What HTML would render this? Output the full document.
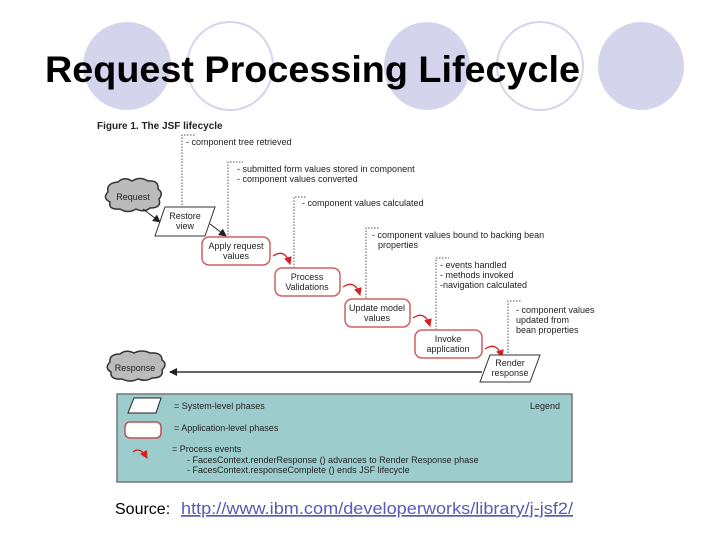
<!DOCTYPE html>
<html><head><meta charset="utf-8"><style>
html,body{margin:0;padding:0;background:#fff;}
body{width:720px;height:540px;overflow:hidden;position:relative;font-family:"Liberation Sans",sans-serif;}
</style></head><body>
<svg width="720" height="540" viewBox="0 0 720 540" xmlns="http://www.w3.org/2000/svg" style="position:absolute;left:0;top:0">
<defs>
<marker id="ab" markerWidth="8" markerHeight="8" refX="7" refY="4" orient="auto" markerUnits="userSpaceOnUse"><path d="M0,0 L8,4 L0,8 z" fill="#222"/></marker>
<marker id="ar" markerWidth="8" markerHeight="8" refX="7" refY="4" orient="auto" markerUnits="userSpaceOnUse"><path d="M0,0 L8,4 L0,8 z" fill="#d62020"/></marker>
</defs>
<ellipse cx="127" cy="66" rx="44" ry="44" fill="#d4d4ec"/>
<ellipse cx="230" cy="66" rx="43" ry="44" fill="none" stroke="#d4d4ec" stroke-width="2"/>
<ellipse cx="427" cy="66" rx="43" ry="44" fill="#d4d4ec"/>
<ellipse cx="540" cy="66" rx="43" ry="44" fill="none" stroke="#d4d4ec" stroke-width="2"/>
<ellipse cx="641" cy="66" rx="43" ry="44" fill="#d4d4ec"/>
<text x="45" y="82" font-size="37" font-weight="bold" font-family="Liberation Sans, sans-serif" fill="#000" textLength="535" lengthAdjust="spacingAndGlyphs">Request Processing Lifecycle</text>

<text x="97" y="129" font-size="10" font-weight="bold" fill="#222">Figure 1. The JSF lifecycle</text>

<g stroke="#555" stroke-dasharray="1.5,1.5" fill="none" stroke-width="1">
<path d="M182,208 V135 H196"/>
<path d="M228,238 V162 H243"/>
<path d="M294,268 V197 H307"/>
<path d="M366,298 V228 H379"/>
<path d="M436,330 V258 H449"/>
<path d="M508,356 V301 H521"/>
</g>
<g font-size="9" fill="#222">
<text x="186" y="145">- component tree retrieved</text>
<text x="237" y="172">- submitted form values stored in component</text>
<text x="237" y="182">- component values converted</text>
<text x="302" y="206">- component values calculated</text>
<text x="372" y="238">- component values bound to backing bean</text>
<text x="378" y="248">properties</text>
<text x="440" y="268">- events handled</text>
<text x="440" y="278">- methods invoked</text>
<text x="440" y="288">-navigation calculated</text>
<text x="516" y="313">- component values</text>
<text x="516" y="323">updated from</text>
<text x="516" y="333">bean properties</text>
</g>

<path d="M108,192 q-2,-9 10,-10 q6,-6 14,-1 q8,-5 16,0 q11,-1 10,8 q6,4 1,10 q3,9 -9,9 q-6,5 -14,1 q-8,5 -16,0 q-12,1 -10,-7 q-8,-4 -2,-10 z" fill="#bbb" stroke="#333" stroke-width="1.5"/>
<text x="133" y="200" font-size="9" text-anchor="middle" fill="#222">Request</text>
<line x1="143" y1="209" x2="160" y2="222" stroke="#222" marker-end="url(#ab)"/>
<path d="M165,207 H215 L205,236 H155 z" fill="#fff" stroke="#333"/>
<text x="185" y="219" font-size="9" text-anchor="middle" fill="#222">Restore</text>
<text x="185" y="229" font-size="9" text-anchor="middle" fill="#222">view</text>
<line x1="210" y1="224" x2="226" y2="236" stroke="#222" marker-end="url(#ab)"/>

<g fill="#fff" stroke="#d06060" stroke-width="1.5">
<rect x="202" y="237" width="68" height="28" rx="7"/>
<rect x="275" y="268" width="65" height="28" rx="7"/>
<rect x="345" y="299" width="65" height="28" rx="7"/>
<rect x="415" y="330" width="67" height="28" rx="7"/>
</g>
<g font-size="9" text-anchor="middle" fill="#222">
<text x="236" y="249">Apply request</text><text x="236" y="259">values</text>
<text x="307" y="280">Process</text><text x="307" y="290">Validations</text>
<text x="377" y="311">Update model</text><text x="377" y="321">values</text>
<text x="448" y="342">Invoke</text><text x="448" y="352">application</text>
</g>
<g fill="none" stroke="#d62020" stroke-width="1.3">
<path d="M273,256 q12,-8 17,8" marker-end="url(#ar)"/>
<path d="M343,287 q12,-8 17,8" marker-end="url(#ar)"/>
<path d="M413,318 q12,-8 17,8" marker-end="url(#ar)"/>
<path d="M485,349 q12,-8 17,8" marker-end="url(#ar)"/>
</g>
<path d="M490,355 H540 L530,382 H480 z" fill="#fff" stroke="#333"/>
<text x="510" y="366" font-size="9" text-anchor="middle" fill="#222">Render</text>
<text x="510" y="376" font-size="9" text-anchor="middle" fill="#222">response</text>
<line x1="482" y1="372" x2="170" y2="372" stroke="#666" stroke-width="2" marker-end="url(#ab)"/>
<path d="M110,362 q-1,-8 10,-8 q6,-5 14,-1 q8,-4 16,0 q12,-1 12,7 q6,4 0,10 q2,8 -10,8 q-6,4 -14,1 q-8,4 -16,0 q-12,1 -11,-7 q-7,-4 -1,-10 z" fill="#bbb" stroke="#333" stroke-width="1.5"/>
<text x="135" y="371" font-size="9" text-anchor="middle" fill="#222">Response</text>

<rect x="117" y="394" width="455" height="88" fill="#9dcccc" stroke="#777" stroke-width="1.5"/>
<path d="M134,398 H161 L156,413 H128 z" fill="#fff" stroke="#222"/>
<rect x="125" y="422" width="36" height="16" rx="5" fill="#fff" stroke="#c05050" stroke-width="1.5"/>
<path d="M133,452 q7,-6 14,6" fill="none" stroke="#d62020" stroke-width="1.3" marker-end="url(#ar)"/>
<g font-size="9" fill="#222">
<text x="174" y="409">= System-level phases</text>
<text x="530" y="409">Legend</text>
<text x="174" y="431">= Application-level phases</text>
<text x="172" y="452">= Process events</text>
<text x="187" y="463">- FacesContext.renderResponse () advances to Render Response phase</text>
<text x="187" y="473">- FacesContext.responseComplete () ends JSF lifecycle</text>
</g>

<text x="115" y="514" font-size="16" fill="#000">Source: </text>
<text x="181" y="514" font-size="17" fill="#5a5ab4" text-decoration="underline" textLength="392" lengthAdjust="spacingAndGlyphs">http://www.ibm.com/developerworks/library/j-jsf2/</text>
</svg>
</body></html>
